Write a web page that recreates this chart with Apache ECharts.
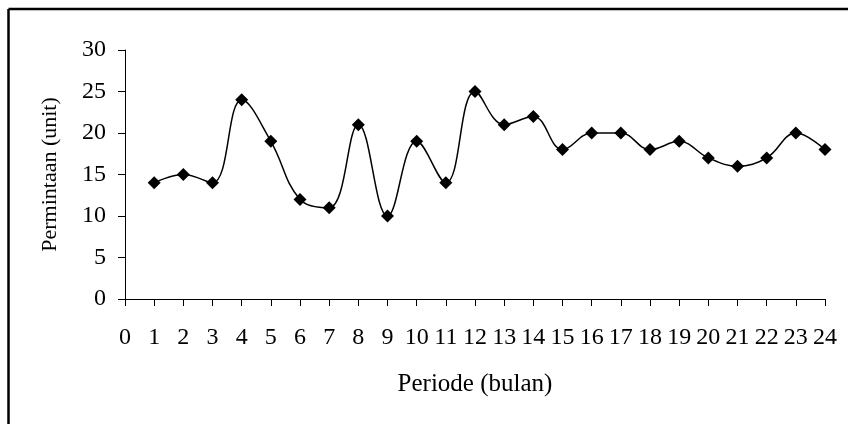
<!DOCTYPE html>
<html><head><meta charset="utf-8">
<script src="https://cdn.jsdelivr.net/npm/echarts@6/dist/echarts.min.js"></script>
<style>html,body{margin:0;padding:0;background:#fff}#c{width:848px;height:424px}</style>
</head><body><div id="c"></div>
<script>
const periods = [1,2,3,4,5,6,7,8,9,10,11,12,13,14,15,16,17,18,19,20,21,22,23,24];
const demand = [14,15,14,24,19,12,11,21,10,19,14,25,21,22,18,20,20,18,19,17,16,17,20,18];
const xTitle = 'Periode (bulan)';
const yTitle = 'Permintaan (unit)';
const font = '"Liberation Serif","Times New Roman",serif';
const chart = echarts.init(document.getElementById('c'));
chart.setOption({
  animation:false,
  backgroundColor:'#fff',
  grid:{left:125,right:23,top:50,bottom:125,containLabel:false},
  xAxis:{type:'value',min:0,max:24,interval:1,
    name:xTitle,nameLocation:'middle',nameGap:73,
    nameTextStyle:{fontFamily:font,fontSize:25,color:'#000'},
    axisLine:{lineStyle:{color:'#000',width:1}},
    axisTick:{show:true,inside:false,length:7,lineStyle:{color:'#000'}},
    axisLabel:{fontFamily:font,fontSize:24,color:'#000',margin:27},
    splitLine:{show:false}},
  yAxis:{type:'value',min:0,max:30,interval:5,
    name:yTitle,nameLocation:'middle',nameGap:64,
    nameTextStyle:{fontFamily:font,fontSize:22,color:'#000'},
    axisLine:{show:true,lineStyle:{color:'#000',width:1}},
    axisTick:{show:true,length:7,lineStyle:{color:'#000'}},
    axisLabel:{fontFamily:font,fontSize:24,color:'#000',margin:19},
    splitLine:{show:false}},
  series:[{type:'line',data:periods.map((p,i)=>[p,demand[i]]),
    smooth:0.4,symbol:'diamond',symbolSize:13,
    itemStyle:{color:'#000'},lineStyle:{color:'#000',width:1.5}}],
  graphic:[
    {type:'line',shape:{x1:8.5,y1:9,x2:848,y2:9},style:{stroke:'#000',lineWidth:2.5}},
    {type:'line',shape:{x1:8.5,y1:9,x2:8.5,y2:424},style:{stroke:'#000',lineWidth:2.5}}
  ]
});
</script></body></html>
